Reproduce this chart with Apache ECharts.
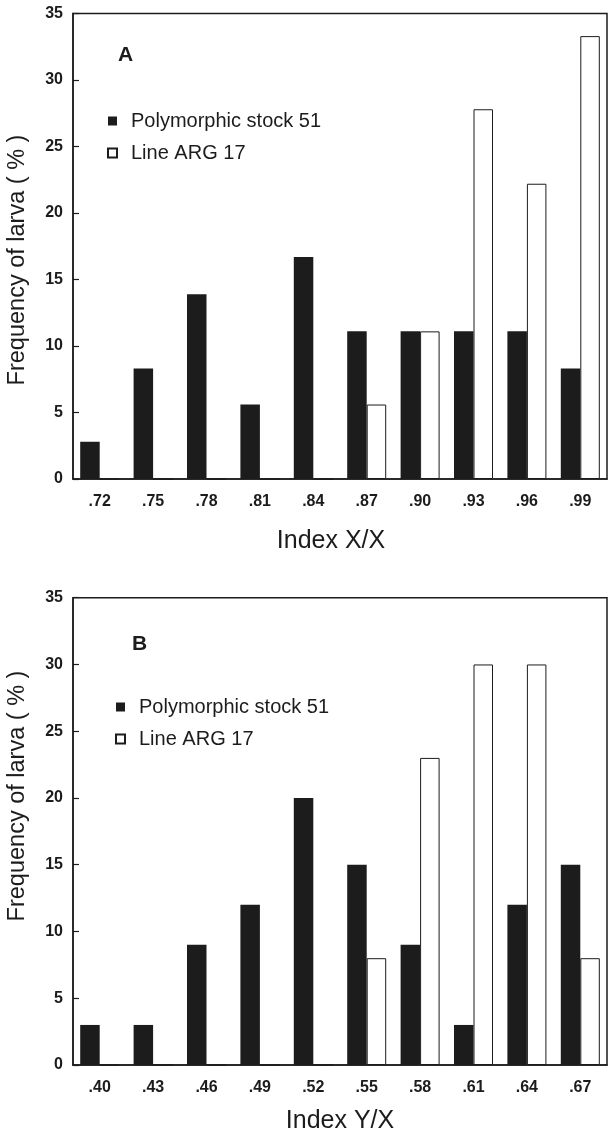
<!DOCTYPE html>
<html>
<head>
<meta charset="utf-8">
<script src="https://cdn.jsdelivr.net/npm/echarts@6/dist/echarts.min.js"></script>
<style>
html,body{margin:0;padding:0;background:#fff;}
#chart{width:608px;height:1138px;}
</style>
</head>
<body>
<div id="chart"></div>
<script>
const catsA = ['.72', '.75', '.78', '.81', '.84', '.87', '.90', '.93', '.96', '.99'];
const stockA = [2.8, 8.3, 13.9, 5.6, 16.7, 11.1, 11.1, 11.1, 11.1, 8.3];
const argA = [0, 0, 0, 0, 0, 5.6, 11.1, 27.8, 22.2, 33.3];

const catsB = ['.40', '.43', '.46', '.49', '.52', '.55', '.58', '.61', '.64', '.67'];
const stockB = [3, 3, 9, 12, 20, 15, 9, 3, 12, 15];
const argB = [0, 0, 0, 0, 0, 8, 23, 30, 30, 8];

const seriesNames = ['Polymorphic stock 51', 'Line ARG 17'];
const panelLabels = ['A', 'B'];
const xTitles = ['Index X/X', 'Index Y/X'];
const yTitle = 'Frequency of larva ( % )';

const FONT = 'Liberation Sans';
const INK = '#1c1c1c';

const chart = echarts.init(document.getElementById('chart'));

function xAxis(idx, cats, title, gap, pad) {
  return {
    type: 'category', gridIndex: idx, data: cats,
    axisLine: { show: true, lineStyle: { color: INK, width: 1.5 } },
    axisTick: { show: false },
    axisLabel: { margin: 15, color: INK, fontFamily: FONT, fontSize: 16, fontWeight: 'bold' },
    name: title, nameLocation: 'middle', nameGap: gap,
    nameTextStyle: { color: INK, fontFamily: FONT, fontSize: 25, padding: pad }
  };
}
function yAxis(idx) {
  return {
    type: 'value', gridIndex: idx, min: 0, max: 35, interval: 5,
    axisLine: { show: true, lineStyle: { color: INK, width: 1.5 } },
    axisTick: { show: true, inside: true, length: 6, lineStyle: { color: INK, width: 1.2 } },
    splitLine: { show: false },
    axisLabel: { margin: 10, color: INK, fontFamily: FONT, fontSize: 16, fontWeight: 'bold' }
  };
}
function blackSeries(idx, data) {
  return {
    name: seriesNames[0], type: 'bar', xAxisIndex: idx, yAxisIndex: idx, data: data,
    barWidth: 19.5, barGap: '0%',
    itemStyle: { color: INK }
  };
}
function whiteSeries(idx, data) {
  return {
    name: seriesNames[1], type: 'bar', xAxisIndex: idx, yAxisIndex: idx, data: data,
    barWidth: 19.5, barGap: '0%',
    itemStyle: { color: '#ffffff', borderColor: INK, borderWidth: 1 }
  };
}
function legend(left, top) {
  return {
    orient: 'vertical', left: left, top: top, itemGap: 12,
    itemWidth: 9, itemHeight: 9, icon: 'rect',
    data: seriesNames,
    textStyle: { color: INK, fontFamily: FONT, fontSize: 20, padding: [0, 0, 0, 9] },
    selectedMode: false
  };
}

const option = {
  backgroundColor: '#ffffff',
  animation: false,
  grid: [
    { left: 73, right: 1, top: 13.5, height: 465.5, show: true, borderColor: INK, borderWidth: 1.5, backgroundColor: 'transparent' },
    { left: 73, right: 1, top: 597.7, height: 467.3, show: true, borderColor: INK, borderWidth: 1.5, backgroundColor: 'transparent' }
  ],
  xAxis: [
    xAxis(0, catsA, xTitles[0], 50, [0, 18, 0, 0]),
    xAxis(1, catsB, xTitles[1], 44, [0, 0, 0, 0])
  ],
  yAxis: [yAxis(0), yAxis(1)],
  legend: [legend(102, 106), legend(110, 692)],
  series: [
    blackSeries(0, stockA), whiteSeries(0, argA),
    blackSeries(1, stockB), whiteSeries(1, argB)
  ],
  graphic: [
    { type: 'text', left: 118, top: 45, style: { text: panelLabels[0], font: 'bold 21px "Liberation Sans"', fill: INK } },
    { type: 'text', left: 132, top: 634, style: { text: panelLabels[1], font: 'bold 21px "Liberation Sans"', fill: INK } },
    { type: 'text', x: 18, y: 260, rotation: Math.PI / 2,
      style: { text: yTitle, font: '23.5px "Liberation Sans"', fill: INK, align: 'center', verticalAlign: 'middle' } },
    { type: 'text', x: 18, y: 796, rotation: Math.PI / 2,
      style: { text: yTitle, font: '23.5px "Liberation Sans"', fill: INK, align: 'center', verticalAlign: 'middle' } }
  ]
};
chart.setOption(option);
</script>
</body>
</html>
